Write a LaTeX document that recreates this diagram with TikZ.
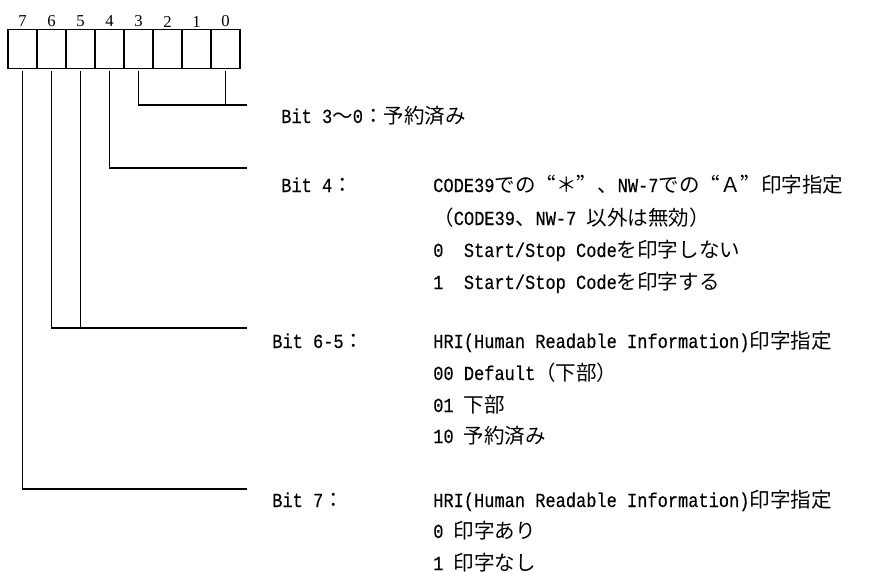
\documentclass[tikz,border=0pt]{standalone}
\usepackage{fontspec}
\setmainfont{Liberation Mono}[FakeStretch=0.85, FakeBold=0.35]
\newfontfamily\jpfont{Noto Sans CJK JP}
\newfontfamily\jpwide{Noto Sans CJK JP}[RawFeature=+fwid]
\newfontfamily\numfont{Liberation Serif}
\usetikzlibrary{calc}
\newcommand{\jtxt}[1]{{\jpfont\fontsize{15.4}{18}\selectfont #1}}
\newcommand{\jwide}[1]{{\jpwide\fontsize{15.4}{18}\selectfont #1}}
\tikzset{
  bitcell/.style={draw, line width=1.1pt, minimum width=21.75pt, minimum height=29.25pt, inner sep=0pt, outer sep=0pt},
  bitnum/.style={font=\numfont\fontsize{12.5}{13}\selectfont, inner sep=0pt},
  desc/.style={anchor=base west, inner sep=0pt},
  wire/.style={line width=1.1pt}
}

\begin{document}
\begin{tikzpicture}[x=0.75pt, y=-0.75pt, font=\fontsize{15}{18}\selectfont]
  \useasboundingbox (0,0) rectangle (869,572);
  \foreach \b [count=\k from 0] in {7,6,5,4,3,2,1,0} {
    \node[bitcell] (b\b) at (22.5+29*\k,49) {};
    \node[bitnum] (n\b) at (22.5+29*\k,21.5) {\b};
  }
  \coordinate (r30) at (247,105);
  \coordinate (r4) at (247,168);
  \coordinate (r65) at (247,328);
  \coordinate (r7) at (247,489);
  \draw[wire] ($(b3.south)+(0,2.5)$) |- (r30);
  \draw[wire] ($(b0.south)+(0,2.5)$) -- (b0 |- r30);
  \draw[wire] ($(b4.south)+(0,2.5)$) |- (r4);
  \draw[wire] ($(b6.south)+(0,2.5)$) |- (r65);
  \draw[wire] ($(b5.south)+(0,2.5)$) -- (b5 |- r65);
  \draw[wire] ($(b7.south)+(0,2.5)$) |- (r7);
  \node[desc] (t30) at (281,123) {Bit 3\jtxt{〜}0\jtxt{：予約済み}};
  \node[desc] (t4) at (281,192) {Bit 4\jtxt{：}};
  \node[desc] (t4a) at (433,192) {CODE39\jtxt{での}\jwide{“＊”、}NW-7\jtxt{での}\jwide{“Ａ”}\jtxt{印字指定}};
  \node[desc] (t4b) at (433,225) {\jtxt{（}CODE39\jtxt{、}NW-7 \jtxt{以外は無効）}};
  \node[desc] (t4c) at (433,257) {0\ \ Start/Stop Code\jtxt{を印字しない}};
  \node[desc] (t4d) at (433,289) {1\ \ Start/Stop Code\jtxt{を印字する}};
  \node[desc] (t65) at (272,348) {Bit 6-5\jtxt{：}};
  \node[desc] (t65a) at (433,348) {HRI(Human Readable Information)\jtxt{印字指定}};
  \node[desc] (t65b) at (433,380) {00 Default\jtxt{（下部）}};
  \node[desc] (t65c) at (433,412) {01 \jtxt{下部}};
  \node[desc] (t65d) at (433,443) {10 \jtxt{予約済み}};
  \node[desc] (t7) at (272,507) {Bit 7\jtxt{：}};
  \node[desc] (t7a) at (433,507) {HRI(Human Readable Information)\jtxt{印字指定}};
  \node[desc] (t7b) at (433,538) {0 \jtxt{印字あり}};
  \node[desc] (t7c) at (433,570) {1 \jtxt{印字なし}};
\end{tikzpicture}
\end{document}
